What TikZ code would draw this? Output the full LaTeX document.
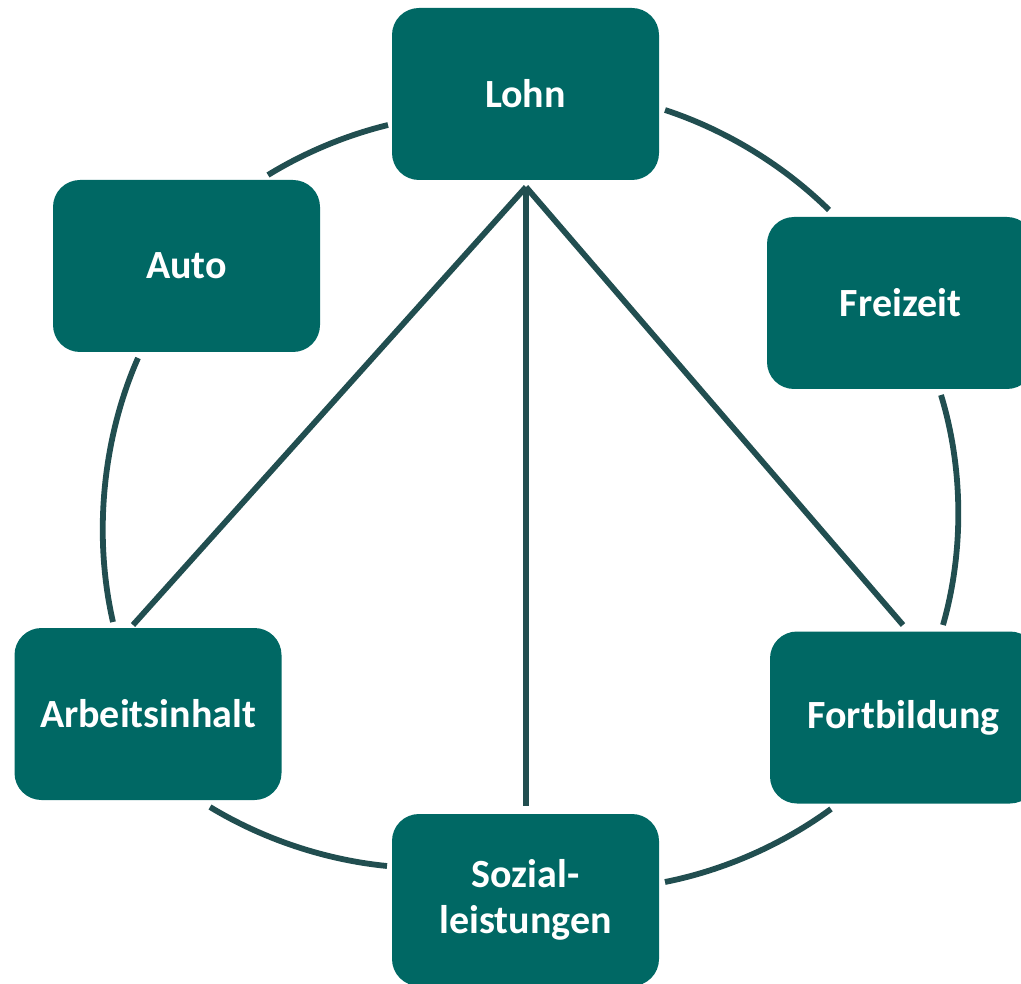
\documentclass[tikz,border=0pt]{standalone}
\usepackage{fontspec}
\setmainfont{Carlito}
\definecolor{boxfill}{RGB}{0,104,100}
\definecolor{linecol}{RGB}{33,78,80}
\begin{document}
\begin{tikzpicture}[x=1pt,y=-1pt,
  box/.style={fill=boxfill, rounded corners=27pt, minimum width=267pt, minimum height=172pt,
    inner sep=0pt, text=white, font=\bfseries\fontsize{40}{46}\selectfont, align=center},
  link/.style={draw=linecol, line width=5.8pt},
  ring/.style={link, bend right=#1, looseness=0.85}]
\useasboundingbox (0,0) rectangle (1021,984);
% nodes
\node[box] (lohn) at (525.5,94) {Lohn};
\node[box] (auto) at (186.5,266) {Auto};
\node[box] (frei) at (900.5,303) {Freizeit};
\node[box] (arb)  at (148,714) {Arbeitsinhalt};
\node[box] (fort) at (903.5,717.5) {Fortbildung};
\node[box] (soz)  at (525.5,900) {Sozial-\\leistungen};
% ring end points
\coordinate (r1a) at (388,125);
\coordinate (r1b) at (268,175);
\coordinate (r2a) at (138,358);
\coordinate (r2b) at (113,622);
\coordinate (r3a) at (210,807);
\coordinate (r3b) at (387,866);
\coordinate (r4a) at (665,882);
\coordinate (r4b) at (831,809);
\coordinate (r5a) at (943,625);
\coordinate (r5b) at (941,395);
\coordinate (r6a) at (829,210);
\coordinate (r6b) at (665,110);
% spokes
\coordinate (apex) at (526,187);
\coordinate (sArb) at (133,625);
\coordinate (sSoz) at (526,806);
\coordinate (sFort) at (903,625);
% ring arcs
\draw[ring=8.9]  (r1a) to (r1b);
\draw[ring=18.4] (r2a) to (r2b);
\draw[ring=12.8] (r3a) to (r3b);
\draw[ring=12.5] (r4a) to (r4b);
\draw[ring=16.5] (r5a) to (r5b);
\draw[ring=13.2] (r6a) to (r6b);
% spokes
\draw[link] (apex) -- (sArb);
\draw[link] (apex) -- (sSoz);
\draw[link] (apex) -- (sFort);
\end{tikzpicture}
\end{document}
